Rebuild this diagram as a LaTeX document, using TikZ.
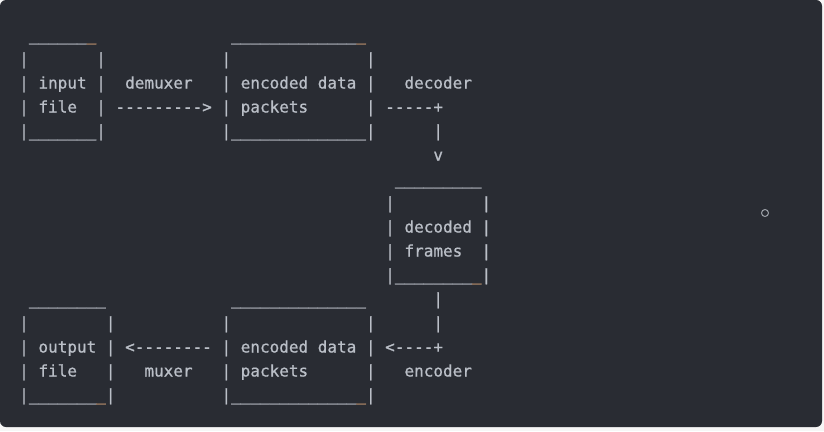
\documentclass[tikz,border=0pt]{standalone}
\usepackage{fontspec}
\setmonofont{DejaVu Sans Mono}[FakeBold=0.8]
\definecolor{bg}{RGB}{41,44,51}
\definecolor{fg}{RGB}{186,191,199}
\definecolor{org}{RGB}{196,150,112}
\definecolor{outside}{RGB}{246,246,246}
\newcommand\gap[1]{\hspace*{\dimexpr #1\dimexpr 9.633pt\relax\relax}}
\newcommand\us[1]{\ifnum#1>0 \_\expandafter\us\expandafter{\the\numexpr#1-1\relax}\fi}
\newcommand\ou{\textcolor{org}{\_}}
\begin{document}
\begin{tikzpicture}[x=1pt,y=-1pt,
  asc/.style={anchor=base west, inner sep=0pt, outer sep=0pt, text=fg,
    font=\ttfamily\fontsize{16}{24}\selectfont}]
\useasboundingbox (0,0) rectangle (824,431);
\fill[outside] (0,0) rectangle (824,431);
\fill[bg, rounded corners=6pt] (0,0) rectangle (822,427);
\node[asc] (l1)  at (19.2, 40.5) {\gap{1}\us{6}\ou\gap{14}\us{13}\ou};
\node[asc] (l2)  at (19.2, 64.5) {|\gap{7}|\gap{12}|\gap{14}|};
\node[asc] (l3)  at (19.2, 88.5) {|\gap{1}input\gap{1}|\gap{2}demuxer\gap{3}|\gap{1}encoded\gap{1}data\gap{1}|\gap{3}decoder};
\node[asc] (l4)  at (19.2,112.5) {|\gap{1}file\gap{2}|\gap{1}--------->\gap{1}|\gap{1}packets\gap{6}|\gap{1}-----+};
\node[asc] (l5)  at (19.2,136.5) {|\us{7}|\gap{12}|\us{14}|\gap{6}|};
\node[asc] (l6)  at (19.2,160.5) {\gap{43}v};
\node[asc] (l7)  at (19.2,184.5) {\gap{39}\us{9}};
\node[asc] (l8)  at (19.2,208.5) {\gap{38}|\gap{9}|};
\node[asc] (l9)  at (19.2,232.5) {\gap{38}|\gap{1}decoded\gap{1}|};
\node[asc] (l10) at (19.2,256.5) {\gap{38}|\gap{1}frames\gap{2}|};
\node[asc] (l11) at (19.2,280.5) {\gap{38}|\us{8}\ou|};
\node[asc] (l12) at (19.2,304.5) {\gap{1}\us{8}\gap{13}\us{14}\gap{7}|};
\node[asc] (l13) at (19.2,328.5) {|\gap{8}|\gap{11}|\gap{14}|\gap{6}|};
\node[asc] (l14) at (19.2,352.5) {|\gap{1}output\gap{1}|\gap{1}<--------\gap{1}|\gap{1}encoded\gap{1}data\gap{1}|\gap{1}<----+};
\node[asc] (l15) at (19.2,376.5) {|\gap{1}file\gap{3}|\gap{3}muxer\gap{3}|\gap{1}packets\gap{6}|\gap{3}encoder};
\node[asc] (l16) at (19.2,400.5) {|\us{7}\ou|\gap{11}|\us{13}\ou|};
\node[circle, draw=fg!80!bg, line width=1pt, minimum size=7pt, inner sep=0pt] (dot) at (765,213) {};
\end{tikzpicture}
\end{document}
